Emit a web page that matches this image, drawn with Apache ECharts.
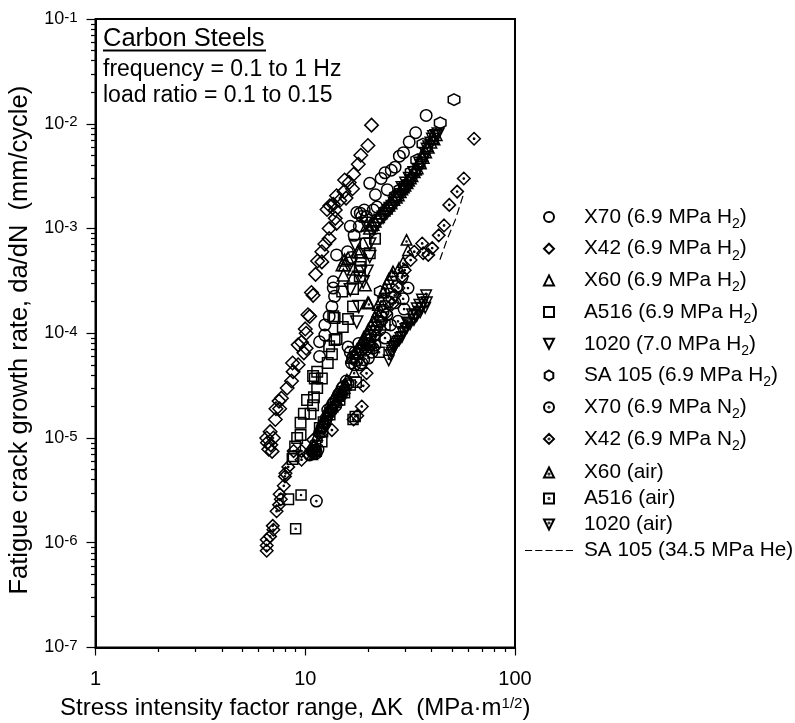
<!DOCTYPE html>
<html><head><meta charset="utf-8">
<style>html,body{margin:0;padding:0;background:#fff}#c{width:795px;height:723px}</style>
<script src="https://cdn.jsdelivr.net/npm/echarts@6/dist/echarts.min.js"></script>
</head><body><div id="c"></div>
<script>
const x70H2=[[37.7,1.2e-2],[33.6,8.2e-3],[31.3,6.7e-3],[29.4,5.3e-3],[28.1,4.9e-3],[26.8,3.85e-3],[25.7,3.6e-3],[24,3.4e-3],[23,3e-3],[20.3,2.7e-3],[24.6,2.35e-3],[21.6,2.1e-3],[22,1.6e-3],[21.1,1.5e-3],[19.1,1.5e-3],[17.6,1.42e-3],[18.3,1.4e-3],[18.6,1.3e-3],[19.6,1.3e-3],[16.4,1.05e-3],[18.1,1.05e-3],[17.1,8.6e-4],[14.1,5.6e-4],[15.9,6e-4],[16.6,5.3e-4],[13.6,3.1e-4],[13.6,2.7e-4],[13.8,2.25e-4],[13.4,1.8e-4],[13,1.45e-4],[12.4,1.2e-4],[11.7,8.3e-5],[12.4,9.6e-5],[11.7,6e-5]];
const x42H2=[[20.7,9.7e-3],[19.9,6.2e-3],[18.4,5e-3],[17.9,4.1e-3],[17,3.3e-3],[15.4,2.9e-3],[16.2,2.75e-3],[16.8,2.4e-3],[15.3,2.25e-3],[14.1,2.05e-3],[14.6,1.85e-3],[15.65,1.95e-3],[13.6,1.7e-3],[13.1,1.65e-3],[12.7,1.52e-3],[13.9,1.5e-3],[13.9,1.25e-3],[14.1,1.12e-3],[13,1e-3],[13,8e-4],[12.4,7.1e-4],[12,6e-4],[11.45,4.9e-4],[12,4.8e-4],[11.2,3.65e-4],[10.7,2.45e-4],[10.9,2.3e-4],[10.3,1.5e-4],[10.5,1.45e-4],[10,1.1e-4],[10.1,1e-4],[9.25,7.75e-5],[9.6,8.2e-5],[10.1,7.2e-5],[9.85,6.5e-5],[8.7,5.2e-5],[9.25,5e-5],[8.75,4.3e-5],[8.6,3.5e-5],[8.2,3e-5],[7.7,2.4e-5],[7.5,2.25e-5],[7.25,1.9e-5],[7.55,1.9e-5],[7.2,1.5e-5],[6.8,1.15e-5],[6.55,1e-5],[7.05,1e-5],[6.85,8.6e-6],[6.95,7.45e-6],[6.6,9e-6],[6.7,7.8e-6]];
const x60H2=[[42,7.9e-3],[40.2,7.4e-3],[39.6,6.7e-3],[38.5,6e-3],[37.4,5.4e-3],[36.4,4.8e-3],[35.3,4.25e-3],[34.1,3.8e-3],[33,3.5e-3],[31.6,3.05e-3],[30.5,2.75e-3],[29.3,2.5e-3],[28.3,2.25e-3],[27.1,2e-3],[25.6,1.76e-3],[24.3,1.57e-3],[23,1.41e-3],[21.5,1.18e-3],[20.3,1.01e-3],[19.7,1.08e-3],[18.2,6e-4],[15.4,5e-4],[16,5.2e-4],[15.4,4.5e-4],[15,4.5e-4],[16.9,3.45e-4],[15.2,3.6e-4],[19.3,2.9e-4],[19.9,1.95e-4],[17.8,6e-4],[17,4.1e-4],[41,7.2e-3],[38,6.2e-3],[36,5e-3],[35,4.4e-3],[33.5,3.7e-3],[32.2,3.2e-3],[31,2.9e-3],[29.8,2.6e-3],[28.8,2.4e-3],[27.7,2.1e-3],[26.4,1.9e-3],[25,1.68e-3],[23.7,1.5e-3],[22.3,1.3e-3],[21,1.1e-3]];
const a516H2=[[19.4,7.2e-4],[18.4,5e-4],[20.3,5.8e-4],[21.5,8e-4],[16.9,2.65e-4],[15,2.5e-4],[16.9,1.8e-4],[16,1.37e-4],[15.1,1.15e-4],[13.8,1.4e-4],[13.8,8.6e-5],[13.4,6.3e-5],[18.2,3.5e-4],[18.2,4.3e-4],[13.6,1.45e-4],[13,7.5e-5],[14.1,8.8e-5],[12.8,5.2e-5],[10.9,3.9e-5],[11.4,4.3e-5],[11.1,3.7e-5],[12,3.7e-5],[11.4,3e-5],[10.2,2.3e-5],[11,2.45e-5],[10.9,2.05e-5],[9.85,1.7e-5],[10.6,1.7e-5],[9.5,1.4e-5],[9.5,1.07e-5],[9.15,1e-5],[8.95,8.3e-6],[8.8,6.7e-6],[8.7,6.3e-6],[8.3,2.6e-6]];
const s1020H2=[[43,8e-3],[41,7.5e-3],[39.8,6.5e-3],[38.9,6e-3],[37.6,5.2e-3],[36.8,4.5e-3],[35.6,4e-3],[34.5,3.65e-3],[33.4,3.2e-3],[32,2.85e-3],[30.9,2.55e-3],[29.6,2.35e-3],[28.6,2.1e-3],[27.4,1.87e-3],[26,1.62e-3],[24.8,1.47e-3],[23.5,1.28e-3],[22,1.08e-3],[20.8,9.3e-4],[19.3,1.12e-3],[20.3,7.1e-4],[20.3,5.4e-4],[19.7,3.9e-4],[18.4,3.85e-4],[18.9,3.1e-4],[18,1.8e-4],[17.6,1.28e-4],[17.3,6.9e-4],[16.4,2.6e-4],[42,7.7e-3],[40.5,7.1e-3],[38.2,5.7e-3],[35.2,4.2e-3],[33,3.4e-3],[31.4,3e-3],[30.2,2.7e-3],[29,2.45e-3],[28,2e-3],[26.6,1.75e-3],[25.4,1.55e-3],[24.2,1.38e-3],[22.7,1.2e-3],[21.3,1e-3]];
const sa105H2=[[51.2,1.7e-2],[44,1.02e-2],[36.4,6.4e-3],[34,4.5e-3],[32,3.45e-3],[30,2.6e-3],[28.3,2.35e-3],[26.9,2.05e-3],[22.8,2.5e-4]];
const x70N2=[[30.9,2.7e-4],[29.3,2.13e-4],[29.6,1.7e-4],[27.7,1.3e-4],[26.8,1.95e-4],[24,9e-5],[16,7.4e-5],[18.2,5e-5],[24.5,1.5e-4],[25.5,1.2e-4],[27.3,2.8e-4],[28.9,3.4e-4],[16.8,5.8e-5],[18.6,5.2e-5],[21.5,7.7e-5],[20.8,6.6e-5],[20,5.8e-5],[17.3,6.6e-5],[16.4,6.6e-5],[22.7,1.08e-4],[20.3,8.6e-5],[19.3,6.9e-5],[15.2,3.1e-5],[14.7,2.75e-5],[14.2,2.45e-5],[13.7,2.2e-5],[13.2,1.94e-5],[13.1,1.78e-5],[12.6,1.55e-5],[12.4,1.37e-5],[12,1.25e-5],[11.7,1.12e-5],[11.2,7.7e-6],[11,7.2e-6],[10.5,6.9e-6],[11.3,2.5e-6],[15,3e-5],[14.9,2.6e-5],[14.4,2.6e-5],[14,2.3e-5],[14,2.05e-5],[13.5,2.1e-5],[13.4,1.85e-5],[12.9,1.7e-5],[12.8,1.85e-5],[12.5,1.45e-5],[12.2,1.3e-5],[12,1.15e-5],[11.5,7.8e-6],[11.3,7.2e-6],[10.8,7.4e-6],[11,8e-6],[16,3.3e-5],[15.7,3.5e-5],[17,6e-5],[17.8,6.3e-5],[18.5,7e-5],[17.5,5.5e-5],[19,7.8e-5],[19.8,8e-5],[20.5,9.5e-5],[21.2,1.05e-4],[22,1.15e-4],[22.3,1.3e-4],[23,1.45e-4],[23.5,1.6e-4],[24,1.8e-4],[25,2e-4],[25.8,2.2e-4],[17.2,5e-5],[16.6,5.2e-5],[18,8e-5],[21,7.2e-5],[19,5.6e-5]];
const x42N2=[[63.8,7.2e-3],[57,3e-3],[53,2.25e-3],[48.6,1.68e-3],[45.9,1.07e-3],[43.3,8.6e-4],[40.3,6.5e-4],[38.6,5.6e-4],[36.1,7.2e-4],[36.5,5.8e-4],[33.1,6e-4],[31.8,5e-4],[29.8,4e-4],[29,3.5e-4],[27.8,2.7e-4],[26.7,2.3e-4],[26,1.9e-4],[24.3,1.55e-4],[23,1.28e-4],[21.7,9.6e-5],[20.7,7.7e-5],[19.6,4.15e-5],[18.9,3.15e-5],[18.6,2e-5],[17,1.5e-5],[17.7,1.63e-5],[13.4,1.19e-5],[10.9,9.6e-6],[10.7,7.7e-6],[10.3,7e-6],[9.6,7.5e-6],[9.6,6.2e-6],[8.8,7.5e-6],[8.3,5.3e-6],[8.05,4.6e-6],[8,4.3e-6],[7.9,3.5e-6],[7.55,2.9e-6],[7.65,2.6e-6],[7.5,2.3e-6],[7.3,2e-6],[7,1.45e-6],[7.05,1.33e-6],[6.8,1.15e-6],[6.55,1.07e-6],[6.55,9.4e-7],[6.55,8.4e-7]];
const x60Air=[[30.4,7.8e-4],[30.9,6.2e-4],[29.3,4.8e-4],[28,4.2e-4],[26.2,3.9e-4],[24.5,3e-4],[23.5,2.45e-4],[22.2,1.86e-4],[20.1,1.95e-4],[21.5,1.43e-4],[20.6,1.2e-4],[19.7,1.01e-4],[18.9,8.6e-5],[18,7.4e-5],[17.3,6.5e-5],[16.6,5.8e-5],[17.1,4.3e-5],[15.6,3.2e-5],[15.1,2.9e-5],[14.5,2.55e-5],[13.9,2.2e-5],[13.2,1.93e-5],[12.6,1.67e-5],[12.1,1.43e-5],[11.4,1.07e-5],[11,8.6e-6],[15.8,3.6e-5],[15.4,3e-5],[14.8,2.8e-5],[14.2,2.3e-5],[13.5,2e-5],[12.9,1.8e-5],[12.3,1.5e-5],[12,1.3e-5],[11.6,1.2e-5],[11.2,7.5e-6],[10.8,7e-6],[19,9.2e-5],[20,1.1e-4],[21,1.3e-4],[22,1.6e-4],[23,2.1e-4],[24,2.7e-4],[25,3.3e-4],[26,3.6e-4],[18.4,8e-5],[17.6,7e-5]];
const a516Air=[[9.55,2.85e-6],[9,1.36e-6],[17.5,3.4e-5],[12,9.2e-6],[11.7,1.25e-5],[12.1,1.15e-5],[16.9,1.5e-5],[17.3,1.6e-5],[22.5,6.6e-5],[24,1.2e-4],[13.1,1.67e-5],[14.6,2.3e-5],[16.4,3.2e-5],[14.5,2.5e-5],[15.4,2.7e-5],[20.3,7.7e-5],[21.5,9.6e-5],[11.2,8.4e-6],[12.2,1.42e-5]];
const s1020Air=[[37.7,2.3e-4],[38,1.98e-4],[36,2.1e-4],[35,1.87e-4],[37.3,1.75e-4],[35.3,1.58e-4],[34,1.46e-4],[33,1.34e-4],[31.6,1.22e-4],[30.5,1.12e-4],[29.6,1.03e-4],[28.9,9.2e-5],[28,8.5e-5],[27.1,8e-5],[26.5,7.2e-5],[26,6.8e-5],[25.5,6.2e-5],[25,5.5e-5],[34,1.73e-4],[32.3,1.52e-4],[30.5,1.27e-4],[36.5,1.95e-4],[35.8,1.75e-4],[34.7,1.6e-4],[33.5,1.5e-4],[32.7,1.35e-4],[31,1.25e-4],[30,1.1e-4],[29.2,1e-4],[28.4,9e-5],[27.5,8.3e-5],[26.8,7.6e-5],[26.2,7.4e-5],[25.8,6.5e-5]];
const sa105He=[[56.5,2.05e-3],[52,1.22e-3],[47.5,7.9e-4],[43.8,5e-4]];

const seriesNames=['X70 (6.9 MPa H2)','X42 (6.9 MPa H2)','X60 (6.9 MPa H2)','A516 (6.9 MPa H2)','1020 (7.0 MPa H2)','SA 105 (6.9 MPa H2)','X70 (6.9 MPa N2)','X42 (6.9 MPa N2)','X60 (air)','A516 (air)','1020 (air)','SA 105 (34.5 MPa He)'];
const seriesData=[x70H2,x42H2,x60H2,a516H2,s1020H2,sa105H2,x70N2,x42N2,x60Air,a516Air,s1020Air];
const xMinorTicks=[2,3,4,5,6,7,8,9,20,30,40,50,60,70,80,90];
const yMinorTicks=[];
[1e-7,1e-6,1e-5,1e-4,1e-3,1e-2].forEach(d=>[2,3,4,5,6,7,8,9].forEach(m=>yMinorTicks.push(+(d*m).toPrecision(2))));
const annotationTitle='Carbon Steels';
const annotationLines=['frequency = 0.1 to 1 Hz','load ratio = 0.1 to 0.15'];
const xTitle='Stress intensity factor range, ΔK  (MPa·m{sup|1/2})';
const yTitle='Fatigue crack growth rate, da/dN  (mm/cycle)';

const circ='M50 0A50 50 0 1 1 49.99 0Z';
const dia='M50 0L100 50L50 100L0 50Z';
const tri='M50 0L100 100L0 100Z';
const sq='M0 0H100V100H0Z';
const dtri='M0 0H100L50 100Z';
const hex='M50 0L93 25L93 75L50 100L7 75L7 25Z';
const dot=(cx,cy)=>`M${cx} ${cy-5}A5 5 0 1 1 ${cx-0.01} ${cy-5}Z`;
const symPaths=[circ,dia,tri,sq,dtri,hex,circ+dot(50,50),dia+dot(50,50),tri+dot(50,66),sq+dot(50,50),dtri+dot(50,34)];
const symSizes=[11.5,13.5,12,10.5,12,11.5,11.5,12.5,10.5,10,10.5];
const ink='#000';
const series=seriesData.map((d,i)=>({
  name:seriesNames[i],type:'scatter',data:d,symbol:'path://'+symPaths[i],symbolSize:symSizes[i],
  itemStyle:{color:'rgba(0,0,0,0)',borderColor:ink,borderWidth:1.5,opacity:1},
  emphasis:{disabled:true},silent:true,z:3
}));
series.push({name:seriesNames[11],type:'line',data:sa105He,showSymbol:false,symbol:'none',
  lineStyle:{color:ink,width:1.2,type:[8,4]},itemStyle:{color:ink},silent:true,z:2});

const dashIcon='path://M0 0H7V1H0ZM10 0H17V1H10ZM20 0H27V1H20ZM30 0H37V1H30ZM40 0H47V1H40Z';
const legendFmt=n=>n.replace(/([HN])2\)/,'$1{sub|2})');
const legendText={fontFamily:'Liberation Sans',fontSize:20.8,color:'#000',lineHeight:20,padding:[0,0,0,6],
  rich:{sub:{fontFamily:'Liberation Sans',fontSize:14,color:'#000',verticalAlign:'bottom',lineHeight:28}}};
const mkLegend=(names,left,top,gap)=>({show:true,orient:'vertical',left,top,itemWidth:48,itemHeight:10,itemGap:gap,
  selectedMode:false,formatter:legendFmt,textStyle:legendText,padding:0,
  data:names.map(n=>({name:n,icon:n===seriesNames[11]?dashIcon:'path://'+symPaths[seriesNames.indexOf(n)]}))});

const supRich={sup:{fontFamily:'Liberation Sans',fontSize:15,color:'#000',verticalAlign:'top',lineHeight:14}};
const base={type:'log',logBase:10,splitLine:{show:false},minorSplitLine:{show:false},minorTick:{show:false}};
const gl={left:95.5,top:19,width:419.5,height:628.5};
const option={
  animation:false,backgroundColor:'#fff',
  textStyle:{fontFamily:'Liberation Sans'},
  grid:{...gl,outerBoundsMode:'none',containLabel:false,show:true,borderColor:'#000',borderWidth:2,backgroundColor:'transparent'},
  legend:[mkLegend(seriesNames.slice(0,8),543,203,3.7),mkLegend(seriesNames.slice(8),525,462,5)],
  xAxis:[
   {...base,min:1,max:100,position:'bottom',
    axisLine:{lineStyle:{color:'#000',width:2}},
    axisTick:{show:true,length:8,lineStyle:{color:'#000',width:1.2}},
    axisLabel:{margin:22,fontSize:20,color:'#000',fontFamily:'Liberation Sans',formatter:v=>String(Math.round(v))},
    name:xTitle,nameLocation:'middle',nameGap:49,
    nameTextStyle:{fontFamily:'Liberation Sans',fontSize:24,color:'#000',padding:[0,20,0,0],rich:{sup:{...supRich.sup}}}},
   {...base,min:1,max:100,position:'bottom',axisLine:{show:false},axisLabel:{show:false},
    axisTick:{show:true,length:4.5,customValues:xMinorTicks,lineStyle:{color:'#000',width:1.2}}}
  ],
  yAxis:[
   {...base,min:1e-7,max:0.1,position:'left',
    axisLine:{lineStyle:{color:'#000',width:2}},
    axisTick:{show:true,length:9,lineStyle:{color:'#000',width:1.2}},
    axisLabel:{margin:18,fontSize:18,color:'#000',fontFamily:'Liberation Sans',
      formatter:v=>'10{sup|'+Math.round(Math.log10(v))+'}',rich:supRich},
    name:yTitle,nameLocation:'middle',nameGap:62,
    nameTextStyle:{fontFamily:'Liberation Sans',fontSize:25.5,color:'#000',padding:[0,14,0,0]}},
   {...base,min:1e-7,max:0.1,position:'left',axisLine:{show:false},axisLabel:{show:false},
    axisTick:{show:true,length:4.5,customValues:yMinorTicks,lineStyle:{color:'#000',width:1.2}}}
  ],
  graphic:[
   {type:'text',left:103,top:26,style:{text:annotationTitle,font:'25.5px "Liberation Sans"',fill:'#000'}},
   {type:'line',shape:{x1:103,y1:50.5,x2:266,y2:50.5},style:{stroke:'#000',lineWidth:2}},
   {type:'text',left:103,top:58,style:{text:annotationLines[0],font:'23px "Liberation Sans"',fill:'#000'}},
   {type:'text',left:103,top:84,style:{text:annotationLines[1],font:'23px "Liberation Sans"',fill:'#000'}}
  ],
  series
};
echarts.init(document.getElementById('c'),null,{renderer:'canvas'}).setOption(option);
</script></body></html>
